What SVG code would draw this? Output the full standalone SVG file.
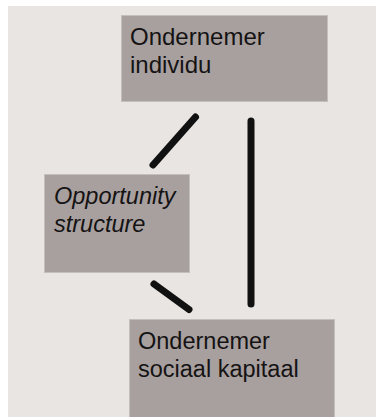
<svg xmlns="http://www.w3.org/2000/svg" width="376" height="417" viewBox="0 0 376 417">
<style>
.box{fill:#a8a09f;stroke:#c4bebc;stroke-width:1}
.t{font-family:"Liberation Sans",Arial,sans-serif;font-size:23.5px;fill:#151313}
.i{font-style:italic}
.c{stroke:#111;stroke-width:7;stroke-linecap:round;fill:none}
</style>
<rect x="0" y="0" width="376" height="417" fill="#ffffff"/>
<rect x="8" y="6" width="368" height="411" fill="#e9e5e2"/>
<g id="node-individu">
<rect class="box" x="121.5" y="15.5" width="206" height="86"/>
<text class="t" x="130" y="45" style="font-size:24px">Ondernemer</text>
<text class="t" x="130" y="72.5" style="font-size:24px">individu</text>
</g>
<g id="node-opportunity">
<rect class="box" x="44.5" y="174.5" width="145" height="98"/>
<text class="t i" x="54" y="204">Opportunity</text>
<text class="t i" x="54" y="231.5">structure</text>
</g>
<g id="node-sociaal">
<rect class="box" x="129.5" y="319.5" width="205" height="100"/>
<text class="t" x="138" y="348.5">Ondernemer</text>
<text class="t" x="138" y="376.5">sociaal kapitaal</text>
</g>
<g id="connectors">
<line class="c" x1="195.5" y1="117" x2="153" y2="165" stroke-linecap="butt"/>
<line class="c" x1="251" y1="121" x2="251" y2="304" stroke-linecap="butt"/>
<line class="c" x1="154" y1="284" x2="189" y2="309.5" stroke-linecap="butt"/>
</g>
</svg>
